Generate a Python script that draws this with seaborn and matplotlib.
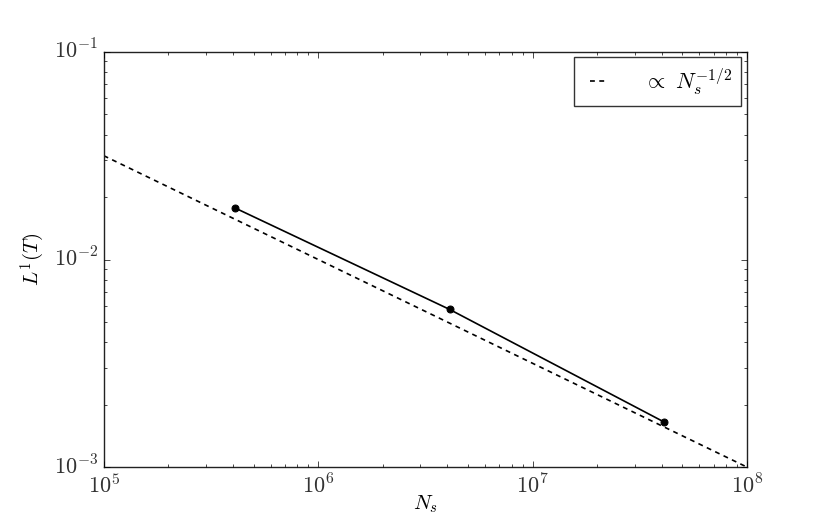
import matplotlib
matplotlib.use("Agg")
import matplotlib.pyplot as plt
from matplotlib.ticker import FuncFormatter
import seaborn as sns
import numpy as np
import pandas as pd

# data
ns_points = [4.1e5, 4.1e6, 4.1e7]
l1_error = [0.0177, 0.00575, 0.00165]
ref_n = [1e5, 1e8]
ref_const = 10.0
ref_label = r"$\propto\ N_s^{-1/2}$"

plt.style.use("classic")
plt.rcParams["mathtext.fontset"] = "cm"
plt.rcParams["font.family"] = ["DejaVu Serif"]
plt.rcParams["figure.facecolor"] = "white"
plt.rcParams["savefig.facecolor"] = "white"

fig, ax = plt.subplots(figsize=(8.3, 5.19), dpi=100)
fig.subplots_adjust(left=0.125, right=0.9, bottom=0.1, top=0.9)

df_pts = pd.DataFrame({"N": ns_points, "L1": l1_error})
ref_vals = [ref_const / np.sqrt(n) for n in ref_n]
df_ref = pd.DataFrame({"N": ref_n, "L1": ref_vals})

sns.lineplot(data=df_pts, x="N", y="L1", ax=ax, color="black", lw=1.2,
             marker="o", markersize=5, markeredgecolor="black", legend=False)
sns.lineplot(data=df_ref, x="N", y="L1", ax=ax, color="black", lw=1.2,
             label=ref_label)
ax.lines[-1].set_dashes((3.5, 3.2))

ax.set_xscale("log")
ax.set_yscale("log")
ax.set_xlim(1e5, 1e8)
ax.set_ylim(1e-3, 1e-1)
fmt = FuncFormatter(lambda v, p: r"$10^{%d}$" % int(round(np.log10(v))))
ax.xaxis.set_major_formatter(fmt)
ax.yaxis.set_major_formatter(fmt)
ax.set_xlabel(r"$N_s$", fontsize=15, labelpad=-3)
ax.set_ylabel(r"$L^1(T)$", fontsize=15)
ax.tick_params(labelsize=16, labelcolor="#333333")
ax.tick_params(axis="x", pad=5)
for s in ax.spines.values():
    s.set_color("#222222")

leg = ax.legend(loc="upper right", fontsize=16, fancybox=False,
                handlelength=1.45, handletextpad=1.3, borderpad=0.4,
                borderaxespad=0.25)
leg.get_frame().set_edgecolor("#333333")
for h in leg.get_lines():
    h.set_dashes((3.5, 3.2))

fig.savefig("out.png", dpi=100)
